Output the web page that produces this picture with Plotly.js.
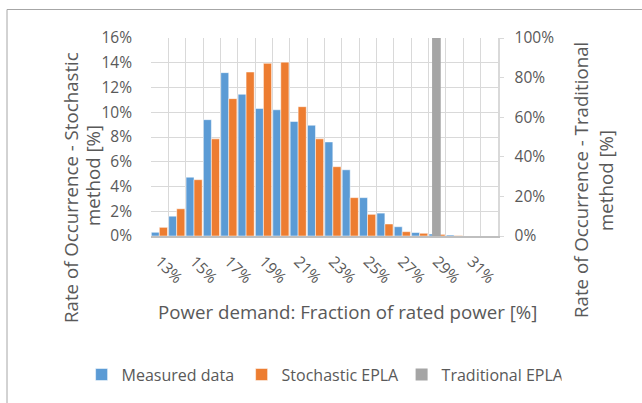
<!DOCTYPE html>
<html>
<head>
<meta charset="utf-8">
<script src="https://cdn.plot.ly/plotly-3.0.1.min.js"></script>
<style>
html,body{margin:0;padding:0;background:#fff;}
#chart{width:642px;height:403px;}
</style>
</head>
<body>
<div id="chart"></div>
<script>
// Categories: power demand as % of rated power
const categories = [13,14,15,16,17,18,19,20,21,22,23,24,25,26,27,28,29,30,31,32];
// Measured data (% occurrence, primary axis)
const measured = [0.3,1.6,4.75,9.4,13.2,11.45,10.3,10.2,9.25,8.95,7.6,5.35,3.1,1.85,0.75,0.28,0.16,0.08,0,0];
// Stochastic EPLA (% occurrence, primary axis)
const stochastic = [0.7,2.2,4.55,7.85,11.1,13.25,13.95,14.05,10.45,7.85,5.6,3.1,1.75,0.97,0.35,0.22,0.13,0.04,0,0];
// Traditional EPLA (% occurrence, secondary axis)
const traditional = [0,0,0,0,0,0,0,0,0,0,0,0,0,0,0,0,100,0,0,0];
// Tick labels
const xTickVals = [13,15,17,19,21,23,25,27,29,31];
const xTickText = ['13%','15%','17%','19%','21%','23%','25%','27%','29%','31%'];
const yTickVals = [0,2,4,6,8,10,12,14,16];
const yTickText = ['0%','2%','4%','6%','8%','10%','12%','14%','16%'];
const y2TickVals = [0,20,40,60,80,100];
const y2TickText = ['0%','20%','40%','60%','80%','100%'];

const FONT = 'Open Sans, Noto Sans, sans-serif';
const TXT = '#595959';
const GRID = '#d9d9d9';
const TICK = 15.5;
const TITLE = 18.7;

const traces = [
  {type:'bar', name:'Measured data', x:categories, y:measured, yaxis:'y',
   offset:-0.48, width:0.46, marker:{color:'#5B9BD5', line:{color:'#ffffff', width:0.5}}},
  {type:'bar', name:'Stochastic EPLA', x:categories, y:stochastic, yaxis:'y',
   offset:-0.02, width:0.47, marker:{color:'#ED7D31', line:{color:'#ffffff', width:0.5}}},
  {type:'bar', name:'Traditional EPLA', x:categories, y:traditional, yaxis:'y2',
   offset:-0.3, width:0.5, marker:{color:'#A5A5A5', line:{width:0}}}
];

const layout = {
  width:642, height:403,
  margin:{l:151, r:144, t:38, b:167, pad:0},
  paper_bgcolor:'#ffffff', plot_bgcolor:'#ffffff',
  font:{family:FONT, color:TXT, size:TICK},
  showlegend:true,
  barmode:'overlay',
  xaxis:{
    type:'linear', range:[12.5,32.5],
    tickmode:'array', tickvals:xTickVals, ticktext:xTickText,
    tickangle:45, ticks:'', showgrid:false,
    minor:{tick0:12.5, dtick:1, showgrid:true, gridcolor:GRID, gridwidth:1, ticks:''},
    showline:true, linecolor:'#bfbfbf', linewidth:1.5,
    zeroline:false, ticklabelstandoff:9,
    tickfont:{size:TICK, color:TXT, family:FONT}
  },
  yaxis:{
    range:[0,16], tickmode:'array', tickvals:yTickVals, ticktext:yTickText,
    showgrid:true, gridcolor:GRID, gridwidth:1, zeroline:false,
    showline:false, ticks:'', ticklabelstandoff:18,
    tickfont:{size:TICK, color:TXT, family:FONT}
  },
  yaxis2:{
    overlaying:'y', side:'right', range:[0,100], tickmode:'array',
    tickvals:y2TickVals, ticktext:y2TickText,
    showgrid:false, zeroline:false,
    showline:true, linecolor:GRID, linewidth:1.5,
    ticks:'outside', ticklen:4, tickcolor:GRID, ticklabelstandoff:8,
    tickfont:{size:TICK, color:TXT, family:FONT}
  },
  legend:{
    orientation:'h', x:-0.2, xanchor:'left', y:-0.70, yanchor:'middle',
    font:{size:16, color:TXT, family:FONT}, entrywidth:115, entrywidthmode:'pixels',
    bgcolor:'rgba(0,0,0,0)', traceorder:'normal'
  },
  annotations:[
    {text:'Rate of Occurrence - Stochastic', xref:'paper', yref:'paper', x:(70-151)/347, y:(236-188)/198,
     textangle:-90, showarrow:false, xanchor:'center', yanchor:'middle', font:{size:TITLE, color:TXT, family:FONT}},
    {text:'method [%]', xref:'paper', yref:'paper', x:(92-151)/347, y:(236-176)/198,
     textangle:-90, showarrow:false, xanchor:'center', yanchor:'middle', font:{size:TITLE, color:TXT, family:FONT}},
    {text:'Rate of Occurrence - Traditional', xref:'paper', yref:'paper', x:(580-151)/347, y:(236-180)/198,
     textangle:-90, showarrow:false, xanchor:'center', yanchor:'middle', font:{size:TITLE, color:TXT, family:FONT}},
    {text:'method [%]', xref:'paper', yref:'paper', x:(605-151)/347, y:(236-181)/198,
     textangle:-90, showarrow:false, xanchor:'center', yanchor:'middle', font:{size:TITLE, color:TXT, family:FONT}},
    {text:'Power demand: Fraction of rated power [%]', xref:'paper', yref:'paper', x:(347.5-151)/347, y:(236-311)/198,
     showarrow:false, xanchor:'center', yanchor:'middle', font:{size:TITLE, color:TXT, family:FONT}}
  ],
  shapes:[
    {type:'rect', xref:'paper', yref:'paper', layer:'below',
     x0:(7-151)/347, x1:(660-151)/347, y0:(236-420)/198, y1:(236-9.5)/198,
     line:{color:'#a6a6a6', width:1}, fillcolor:'rgba(0,0,0,0)'}
  ]
};

Plotly.newPlot('chart', traces, layout, {staticPlot:true, displayModeBar:false});
</script>
</body>
</html>
